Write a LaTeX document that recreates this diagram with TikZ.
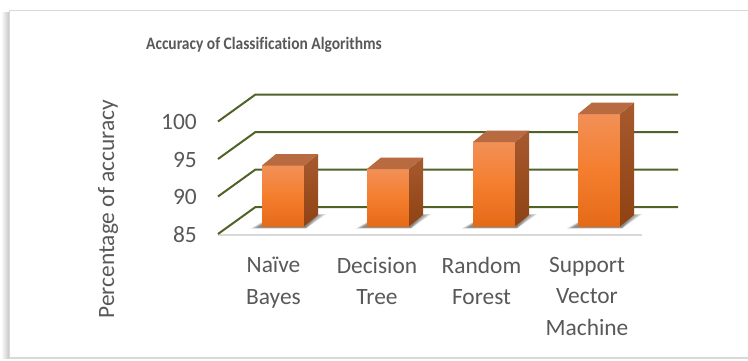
\documentclass[tikz,border=0pt]{standalone}
\usepackage{graphicx}
\usepackage{fontspec}
\setmainfont{Carlito}[Ligatures={NoCommon}]
\definecolor{gridgreen}{HTML}{4F6228}
\definecolor{txtgray}{HTML}{595959}
\definecolor{framegray}{HTML}{D9D9D9}
\definecolor{frontTop}{HTML}{F29057}
\definecolor{frontMid}{HTML}{F47E2E}
\definecolor{frontBot}{HTML}{E56A18}
\definecolor{sideTop}{HTML}{A65A2E}
\definecolor{sideBot}{HTML}{8F4212}
\definecolor{topFace}{HTML}{B86A40}
\begin{document}
\begin{tikzpicture}[x=1pt,y=-1pt,
  gridline/.style={draw=gridgreen, line width=2pt, line join=round},
  ticklabel/.style={font=\fontsize{23.4}{28}\selectfont, text=txtgray, inner sep=0pt},
  catlabel/.style={font=\fontsize{23.4}{31.5}\selectfont, text=txtgray, inner sep=0pt, align=center},
  charttitle/.style={font=\fontsize{17.5}{20}\selectfont\bfseries, text=txtgray},
  frontface/.style={top color=frontTop, bottom color=frontBot, middle color=frontMid},
  sideface/.style={top color=sideTop, bottom color=sideBot},
  topface/.style={fill=topFace},
  barshadow/.style={fill=black, fill opacity=0.14},
]
\useasboundingbox (0,0) rectangle (748,360);

% chart area with its frame and soft left shadow
\shade[left color=white, right color=black!22] (1,12) rectangle (9,358);
\fill[white] (9.5,10.5) rectangle (748,358);
\draw[framegray, line width=1.6pt] (748,10.5) -- (9.5,10.5) -- (9.5,358.2) -- (748,358.2);

% title (slightly condensed)
\node[charttitle] (title) at (264,45) {\scalebox{0.885}[1]{Accuracy of Classification Algorithms}};

% floor edge
\draw[framegray, line width=2.4pt] (218,235) -- (642,235);

% grid lines: side wall diagonal, then back wall
\foreach \v/\nm in {85/a,90/b,95/c,100/d} {
  \pgfmathsetmacro\yf{234-(\v-85)*7.5}
  \pgfmathsetmacro\yb{\yf-27}
  \draw[gridline] (218,\yf) -- (255.5,\yb) -- (678,\yb);
  \node[ticklabel, anchor=east] (tick\nm) at (197,\yf+0.8) {\v};
}

% bars: left edge of front face / top of front face
\foreach \xl/\yt/\nm in {262/165.5/nb, 367/169/dt, 473/142/rf, 578/114/svm} {
  % soft shadow on the floor
  \foreach \s in {0,2,4,6} {
    \fill[barshadow] (\xl-11+\s,228.5-\s*0.15) -- (\xl+44,228.5-\s*0.15)
      -- (\xl+64-\s*1.5,214+\s*0.3) -- (\xl+14,214+\s*0.3) -- cycle;
  }
  \shade[frontface] (\xl,\yt) rectangle (\xl+42,226.5);
  \shade[sideface] (\xl+42,\yt) -- (\xl+56,\yt-11.5) -- (\xl+56,215) -- (\xl+42,226.5) -- cycle;
  \fill[topface] (\xl,\yt) -- (\xl+14,\yt-11.5) -- (\xl+56,\yt-11.5) -- (\xl+42,\yt) -- cycle;
  \coordinate (bar\nm) at (\xl+21,\yt);
}

% category labels
\node[catlabel, anchor=north] (catnb)  at (273.5,257) {Naïve\\Bayes};
\node[catlabel, anchor=north] (catdt)  at (377,257) {Decision\\Tree};
\node[catlabel, anchor=north] (catrf)  at (481.5,257) {Random\\Forest};
\node[catlabel, anchor=north] (catsvm) at (587,257) {Support\\Vector\\Machine};

% value axis title
\node[font=\fontsize{23.4}{28}\selectfont, text=txtgray, rotate=90] (ytitle) at (108,209) {Percentage of accuracy};
\end{tikzpicture}
\end{document}
